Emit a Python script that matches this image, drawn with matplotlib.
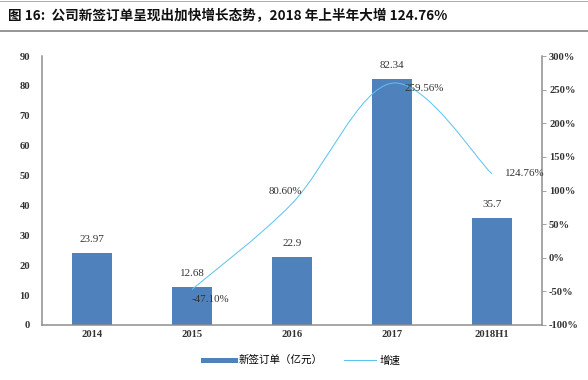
import matplotlib
matplotlib.use("Agg")
import matplotlib.pyplot as plt
from matplotlib.path import Path
from matplotlib.patches import PathPatch
from matplotlib.lines import Line2D
from matplotlib.ticker import FuncFormatter

plt.rcParams['font.family'] = ['Liberation Serif', 'Noto Sans CJK SC', 'DejaVu Sans']

categories = ["2014", "2015", "2016", "2017", "2018H1"]
orders = [23.97, 12.68, 22.9, 82.34, 35.7]          # 新签订单（亿元）
growth = [None, -47.10, 80.60, 259.56, 124.76]       # 增速 (%)
order_labels = ["23.97", "12.68", "22.9", "82.34", "35.7"]
growth_labels = ["", "-47.10%", "80.60%", "259.56%", "124.76%"]

BAR = "#4f81bd"
LINE = "#5bc3f0"
AXIS = "#8c8c8c"
CJK = ['Noto Sans CJK SC', 'DejaVu Sans']

fig = plt.figure(figsize=(588 / 72, 380 / 72), dpi=72)
ax = fig.add_axes([42 / 588, 1 - 325 / 380, 500 / 588, 269 / 380])
ax2 = ax.twinx()

x = list(range(len(categories)))
ax.bar(x, orders, width=0.4, color=BAR, zorder=2)
ax.set_xlim(-0.5, len(categories) - 0.5)
ax.set_ylim(0, 90)
ax.set_yticks(range(0, 91, 10))
ax.set_xticks(x)
ax.set_xticklabels(categories)
for xi, v, lab in zip(x, orders, order_labels):
    ax.annotate(lab, (xi, v), xytext=(0, 9), textcoords="offset points",
                ha="center", va="bottom", fontsize=11, color="#333333")

# smoothed growth line (Excel-style bezier through the points)
pts = [(xi, g) for xi, g in zip(x, growth) if g is not None]
verts = [pts[0]]
codes = [Path.MOVETO]
n = len(pts)
for i in range(n - 1):
    p0 = pts[max(i - 1, 0)]
    p1 = pts[i]
    p2 = pts[i + 1]
    p3 = pts[min(i + 2, n - 1)]
    c1 = (p1[0] + (p2[0] - p0[0]) / 6, p1[1] + (p2[1] - p0[1]) / 6)
    c2 = (p2[0] - (p3[0] - p1[0]) / 6, p2[1] - (p3[1] - p1[1]) / 6)
    verts += [c1, c2, p2]
    codes += [Path.CURVE4] * 3
ax2.add_patch(PathPatch(Path(verts, codes), facecolor="none", edgecolor=LINE, lw=1.0, zorder=3))
ax2.set_ylim(-100, 300)
ax2.set_yticks(range(-100, 301, 50))
ax2.yaxis.set_major_formatter(FuncFormatter(lambda v, p: f"{v:.0f}%"))

offsets = {1: (18, -10), 2: (-7, 12), 3: (32, -5), 4: (33, 0)}
for xi, g, lab in zip(x, growth, growth_labels):
    if g is None:
        continue
    dx, dy = offsets[xi]
    ax2.annotate(lab, (xi, g), xytext=(dx, dy), textcoords="offset points",
                 ha="center", va="center", fontsize=11, color="#333333")

for a in (ax, ax2):
    for s in a.spines.values():
        s.set_visible(False)
ax.spines["left"].set_visible(True)
ax.spines["bottom"].set_visible(True)
ax2.spines["right"].set_visible(True)
for s in (ax.spines["left"], ax.spines["bottom"], ax2.spines["right"]):
    s.set_color(AXIS)
    s.set_linewidth(1.5)
ax.tick_params(axis="y", length=0, pad=12, labelsize=10.5, labelcolor="#333333")
ax.tick_params(axis="x", length=0, pad=5, labelsize=10.5, labelcolor="#333333")
ax2.tick_params(axis="y", direction="out", length=4, color=AXIS, pad=3,
                labelsize=10.5, labelcolor="#333333")
for t in ax.get_yticklabels() + ax.get_xticklabels() + ax2.get_yticklabels():
    t.set_fontweight("bold")

# title block
fig.text(8 / 588, 1 - 16 / 380, "图 16:  公司新签订单呈现出加快增长态势，2018 年上半年大增 124.76%",
         family=['Noto Sans CJK SC', 'DejaVu Sans'], fontsize=13.6, fontweight="bold",
         ha="left", va="center", color="#111111")
fig.add_artist(Line2D([0, 1], [1 - 1 / 380, 1 - 1 / 380], color="#999999", lw=0.8))
fig.add_artist(Line2D([0, 1], [1 - 31 / 380, 1 - 31 / 380], color="#777777", lw=1.5))

handles = [Line2D([], [], color=BAR, lw=5), Line2D([], [], color=LINE, lw=1)]
leg = fig.legend(handles, ["新签订单（亿元）", "增速"], loc="center",
                 bbox_to_anchor=(302 / 588, 1 - 361 / 380), ncol=2, frameon=False,
                 prop={"family": CJK, "size": 10.5}, handlelength=3.0, handletextpad=0.4,
                 columnspacing=2.0)

fig.savefig("out.png", dpi=72)
